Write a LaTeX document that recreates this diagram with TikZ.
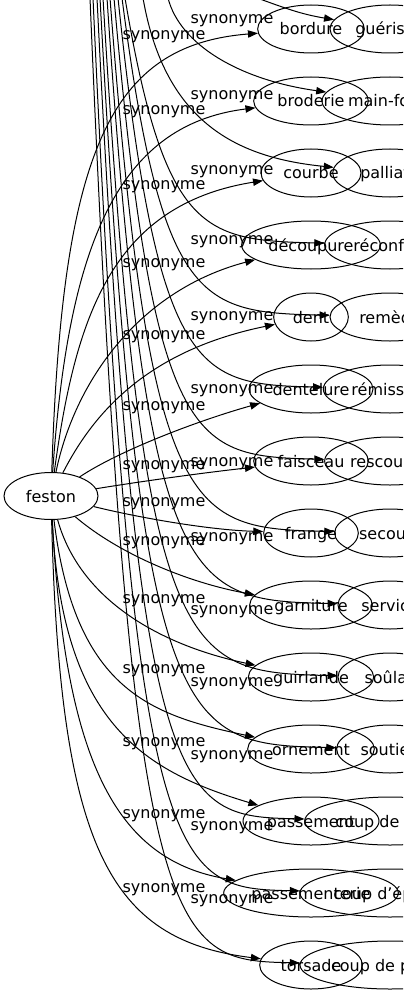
\documentclass[tikz,border=0pt]{standalone}
\usepackage{fontspec}
\setmainfont{DejaVu Sans}
\usepackage{xcolor}
\usepackage{tikz}
\usetikzlibrary{shapes,arrows.meta}

\begin{document}
\begin{tikzpicture}[
        x=0.75pt, y=-0.75pt,
        word/.style={draw, ellipse, inner sep=0pt, line width=0.75pt,
            minimum height=36pt, text height=9pt, text depth=0pt,
            font=\fontsize{12}{14}\selectfont},
        syn/.style={inner sep=0pt, font=\fontsize{12}{14}\selectfont},
        link/.style={line width=0.75pt, -{Triangle[length=7.5pt,width=5.5pt]}}
    ]
    \useasboundingbox (0,0) rectangle (403,995);
    \clip (0,0) rectangle (403,995);

    % centre word
    \node[word, minimum width=70.5pt, minimum height=35.25pt] (feston) at (51,496) {feston};

    % first column
    \node[word, minimum width=80pt]  (bordure)       at (311,29)  {bordure};
    \node[word, minimum width=86pt]  (broderie)      at (311,101) {broderie};
    \node[word, minimum width=75pt]  (courbe)        at (311,173) {courbe};
    \node[word, minimum width=104pt] (decoupure)     at (311,245) {découpure};
    \node[word, minimum width=56pt]  (dent)          at (311,317) {dent};
    \node[word, minimum width=93pt]  (dentelure)     at (311,389) {dentelure};
    \node[word, minimum width=86pt]  (faisceau)      at (311,461) {faisceau};
    \node[word, minimum width=71pt]  (frange)        at (311,533) {frange};
    \node[word, minimum width=92pt]  (garniture)     at (311,605) {garniture};
    \node[word, minimum width=94pt]  (guirlande)     at (311,677) {guirlande};
    \node[word, minimum width=95pt]  (ornement)      at (311,749) {ornement};
    \node[word, minimum width=102pt] (passement)     at (311,821) {passement};
    \node[word, minimum width=131pt] (passementerie) at (311,893) {passementerie};
    \node[word, minimum width=77pt]  (torsade)       at (311,965) {torsade};

    % second column (cut at the right border)
    \node[word, minimum width=90pt]  (guerison)   at (390,29)  {guérison};
    \node[word, minimum width=102pt] (mainforte)  at (390,101) {main-forte};
    \node[word, minimum width=86pt]  (palliatif)  at (390,173) {palliatif};
    \node[word, minimum width=98pt]  (reconfort)  at (390,245) {réconfort};
    \node[word, minimum width=90pt]  (remede)     at (390,317) {remède};
    \node[word, minimum width=100pt] (remission)  at (390,389) {rémission};
    \node[word, minimum width=98pt]  (rescousse)  at (390,461) {rescousse};
    \node[word, minimum width=83pt]  (secours)    at (390,533) {secours};
    \node[word, minimum width=78pt]  (service)    at (390,605) {service};
    \node[word, minimum width=78pt]  (soulas)     at (390,677) {soûlas};
    \node[word, minimum width=80pt]  (soutien)    at (390,749) {soutien};
    \node[word, minimum width=128pt] (coupmain)   at (390,821) {coup de main};
    \node[word, minimum width=135pt] (coupepaule) at (390,893) {coup d'épaule};
    \node[word, minimum width=135pt] (couppouce)  at (390,965) {coup de pouce};

    % feston -> first column
    \draw[link] (feston) .. controls (62,150)  and (110,45)  .. (bordure);
    \draw[link] (feston) .. controls (68,250)  and (115,125) .. (broderie);
    \draw[link] (feston) .. controls (75,320)  and (110,205) .. (courbe);
    \draw[link] (feston) .. controls (75,380)  and (140,290) .. (decoupure);
    \draw[link] (feston) .. controls (95,410)  and (150,350) .. (dent);
    \draw[link] (feston) .. controls (120,450) and (200,420) .. (dentelure);
    \draw[link] (feston) .. controls (150,480) and (210,472) .. (faisceau);
    \draw[link] (feston) .. controls (140,518) and (210,530) .. (frange);
    \draw[link] (feston) .. controls (120,555) and (190,583) .. (garniture);
    \draw[link] (feston) .. controls (80,600)  and (160,645) .. (guirlande);
    \draw[link] (feston) .. controls (75,690)  and (150,715) .. (ornement);
    \draw[link] (feston) .. controls (62,720)  and (140,770) .. (passement);
    \draw[link] (feston) .. controls (65,760)  and (115,860) .. (passementerie);
    \draw[link] (feston) .. controls (60,850)  and (110,940) .. (torsade);

    % edges coming in from above the picture
    \coordinate (t0)  at (257,-2);
    \coordinate (t1)  at (168,-2);
    \coordinate (t2)  at (143,-2);
    \coordinate (t3)  at (125,-2);
    \coordinate (t4)  at (122,-2);
    \coordinate (t5)  at (118,-2);
    \coordinate (t6)  at (114,-2);
    \coordinate (t7)  at (110,-2);
    \coordinate (t8)  at (107,-2);
    \coordinate (t9)  at (103,-2);
    \coordinate (t10) at (100,-2);
    \coordinate (t11) at (97,-2);
    \coordinate (t12) at (93,-2);
    \coordinate (t13) at (90,-2);

    \draw[link] (t0)  .. controls (285,8)   and (300,14)  .. (guerison);
    \draw[link] (t1)  .. controls (180,45)  and (240,80)  .. (mainforte);
    \draw[link] (t2)  .. controls (165,125) and (240,158) .. (palliatif);
    \draw[link] (t3)  .. controls (165,235) and (205,240) .. (reconfort);
    \draw[link] (t4)  .. controls (162,307) and (202,312) .. (remede);
    \draw[link] (t5)  .. controls (158,379) and (198,384) .. (remission);
    \draw[link] (t6)  .. controls (154,451) and (194,456) .. (rescousse);
    \draw[link] (t7)  .. controls (150,523) and (190,528) .. (secours);
    \draw[link] (t8)  .. controls (147,595) and (187,600) .. (service);
    \draw[link] (t9)  .. controls (143,667) and (183,672) .. (soulas);
    \draw[link] (t10) .. controls (140,739) and (180,744) .. (soutien);
    \draw[link] (t11) .. controls (137,811) and (177,816) .. (coupmain);
    \draw[link] (t12) .. controls (133,883) and (173,888) .. (coupepaule);
    \draw[link] (t13) .. controls (130,955) and (170,960) .. (couppouce);

    % edge labels
    \node[syn] (sa0)  at (164,37)  {synonyme};
    \node[syn] (sa1)  at (164,112) {synonyme};
    \node[syn] (sa2)  at (164,187) {synonyme};
    \node[syn] (sa3)  at (164,265) {synonyme};
    \node[syn] (sa4)  at (164,337) {synonyme};
    \node[syn] (sa5)  at (164,408) {synonyme};
    \node[syn] (sa6)  at (164,467) {synonyme};
    \node[syn] (sa7)  at (164,504) {synonyme};
    \node[syn] (sa8)  at (164,543) {synonyme};
    \node[syn] (sa9)  at (164,601) {synonyme};
    \node[syn] (sa10) at (164,671) {synonyme};
    \node[syn] (sa11) at (164,744) {synonyme};
    \node[syn] (sa12) at (164,816) {synonyme};
    \node[syn] (sa13) at (164,890) {synonyme};

    \node[syn] (sb0)  at (232,21)  {synonyme};
    \node[syn] (sb1)  at (232,97)  {synonyme};
    \node[syn] (sb2)  at (232,172) {synonyme};
    \node[syn] (sb3)  at (232,242) {synonyme};
    \node[syn] (sb4)  at (232,318) {synonyme};
    \node[syn] (sb5)  at (232,391) {synonyme};
    \node[syn] (sb6)  at (232,464) {synonyme};
    \node[syn] (sb7)  at (232,539) {synonyme};
    \node[syn] (sb8)  at (232,612) {synonyme};
    \node[syn] (sb9)  at (232,684) {synonyme};
    \node[syn] (sb10) at (232,757) {synonyme};
    \node[syn] (sb11) at (232,828) {synonyme};
    \node[syn] (sb12) at (232,901) {synonyme};
\end{tikzpicture}
\end{document}
